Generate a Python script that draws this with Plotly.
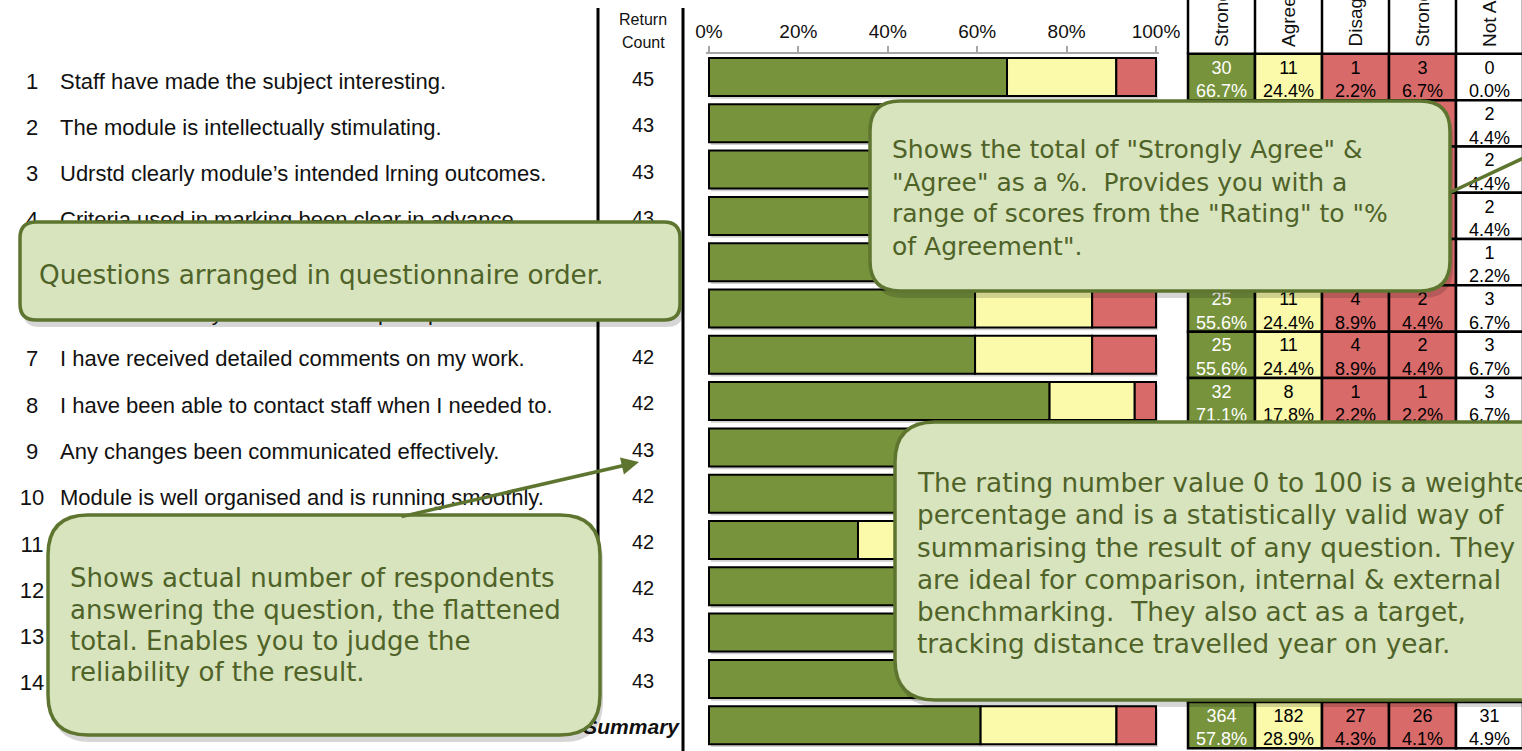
import plotly.graph_objects as go

W, H = 1522, 751

# ---------------- data ----------------
question_numbers = [str(i) for i in range(1, 15)]
questions = [
    "Staff have made the subject interesting.",
    "The module is intellectually stimulating.",
    "Udrstd clearly module’s intended lrning outcomes.",
    "Criteria used in marking been clear in advance.",
    "Assessment & marking have been fair.",
    "Feedback on my work has been prompt.",
    "I have received detailed comments on my work.",
    "I have been able to contact staff when I needed to.",
    "Any changes been communicated effectively.",
    "Module is well organised and is running smoothly.",
    "Suitable resources have been available.",
    "Library resources are good enough.",
    "Good access to specialised equipment.",
    "Overall I am satisfied with this module.",
]
strongly_agree = [30, 27, 26, 25, 28, 25, 25, 32, 27, 26, 14, 25, 27, 27]
agree = [11, 13, 14, 15, 13, 11, 11, 8, 13, 12, 20, 14, 13, 14]
disagree = [1, 1, 1, 2, 1, 4, 4, 1, 2, 2, 4, 1, 2, 1]
strongly_disagree = [3, 2, 2, 1, 2, 2, 2, 1, 1, 2, 4, 2, 1, 1]
not_applicable = [0, 2, 2, 2, 1, 3, 3, 3, 2, 3, 3, 3, 2, 2]

column_headers = ["Strongly Agree", "Agree", "Disagree", "Strongly Disagree", "Not Applicable"]
tick_values = [0, 0.2, 0.4, 0.6, 0.8, 1.0]
tick_labels = ["0%", "20%", "40%", "60%", "80%", "100%"]

# ---------------- derived ----------------
sa = strongly_agree + [sum(strongly_agree)]
ag = agree + [sum(agree)]
di = disagree + [sum(disagree)]
sd = strongly_disagree + [sum(strongly_disagree)]
na = not_applicable + [sum(not_applicable)]
answered = [a + b + c + d for a, b, c, d in zip(sa, ag, di, sd)]
totals = [n + m for n, m in zip(answered, na)]
rows = list(range(1, 16))

GREEN = "#77933C"
YELLOW = "#FAFAAA"
RED = "#D86A6A"
CALLOUT_FILL = "#D7E4BD"
CALLOUT_LINE = "#5E7530"
CALLOUT_TEXT = "#4F6228"
ARIAL = "Liberation Sans, Arial, sans-serif"
VERD = "DejaVu Sans, Verdana, sans-serif"

# row geometry (pixels): row 1 centre at 77, step 46.3
R0, STEP = 77.0, 46.3
y_top = 1 - R0 / STEP
y_bot = 1 + (H - R0) / STEP

fig = go.Figure()

# ---------------- stacked bars ----------------
p_sa = [s / n for s, n in zip(sa, answered)]
p_ag = [a / n for a, n in zip(ag, answered)]
p_neg = [(d + s) / n for d, s, n in zip(di, sd, answered)]
p_tot = [a + b + c for a, b, c in zip(p_sa, p_ag, p_neg)]
bar_line = dict(color="black", width=2)
# soft drop shadow under every bar
fig.add_trace(go.Bar(y=rows, x=p_tot, base=[0.004] * 15, orientation="h", width=0.82,
                     offset=-0.41 + 0.06, marker=dict(color="rgba(0,0,0,0.18)", line=dict(width=0)),
                     xaxis="x", yaxis="y"))
fig.add_trace(go.Bar(y=rows, x=p_sa, base=[0] * 15, orientation="h", width=0.82,
                     marker=dict(color=GREEN, line=bar_line), xaxis="x", yaxis="y"))
fig.add_trace(go.Bar(y=rows, x=p_ag, base=p_sa, orientation="h", width=0.82,
                     marker=dict(color=YELLOW, line=bar_line), xaxis="x", yaxis="y"))
fig.add_trace(go.Bar(y=rows, x=p_neg, base=[a + b for a, b in zip(p_sa, p_ag)],
                     orientation="h", width=0.82,
                     marker=dict(color=RED, line=bar_line), xaxis="x", yaxis="y"))

# ---------------- table cells ----------------
cols = [sa, ag, di, sd, na]
fills = [GREEN, YELLOW, RED, RED, "white"]
for j, (vals, fill) in enumerate(zip(cols, fills)):
    fig.add_trace(go.Bar(y=rows, x=[1] * 15, base=[j] * 15, orientation="h", width=1,
                         marker=dict(color=fill, line=dict(color="black", width=2.5)),
                         xaxis="x3", yaxis="y"))
    tc = "white" if j == 0 else "black"
    fig.add_trace(go.Scatter(x=[j + 0.5] * 15, y=[r - 0.17 for r in rows],
                             text=[str(v) for v in vals], mode="text", cliponaxis=False,
                             textfont=dict(family=ARIAL, size=18, color=tc),
                             xaxis="x3", yaxis="y"))
    fig.add_trace(go.Scatter(x=[j + 0.5] * 15, y=[r + 0.34 for r in rows],
                             text=[f"{v / t * 100:.1f}%" for v, t in zip(vals, totals)],
                             mode="text", cliponaxis=False,
                             textfont=dict(family=ARIAL, size=18, color=tc),
                             xaxis="x3", yaxis="y"))

# ---------------- left labels ----------------
lab_rows = [r + 0.13 for r in rows[:14]]
cnt_rows = [r + 0.09 for r in rows[:14]]
fig.add_trace(go.Scatter(x=[32] * 14, y=lab_rows, text=question_numbers, mode="text",
                         textposition="middle center", cliponaxis=False,
                         textfont=dict(family=ARIAL, size=22, color="#111"),
                         xaxis="x4", yaxis="y"))
fig.add_trace(go.Scatter(x=[60] * 14, y=lab_rows, text=questions, mode="text",
                         textposition="middle right", cliponaxis=False,
                         textfont=dict(family=ARIAL, size=22, color="#111"),
                         xaxis="x4", yaxis="y"))
fig.add_trace(go.Scatter(x=[643] * 14, y=cnt_rows, text=[str(v) for v in answered[:14]],
                         mode="text", textposition="middle center", cliponaxis=False,
                         textfont=dict(family=ARIAL, size=20, color="#111"),
                         xaxis="x4", yaxis="y"))
fig.add_trace(go.Scatter(x=[679], y=[15.07], text=["<b><i>Summary</i></b>"], mode="text",
                         textposition="middle left", cliponaxis=False,
                         textfont=dict(family=ARIAL, size=21, color="#111"),
                         xaxis="x4", yaxis="y"))

# ---------------- helpers (pixel -> paper) ----------------
def px(x):
    return x / W

def py(y):
    return 1 - y / H

def rrect(x0, y0, x1, y1, r):
    def P(x, y):
        return f"{px(x):.5f},{py(y):.5f}"
    return (f"M {P(x0 + r, y0)} L {P(x1 - r, y0)} Q {P(x1, y0)} {P(x1, y0 + r)} "
            f"L {P(x1, y1 - r)} Q {P(x1, y1)} {P(x1 - r, y1)} L {P(x0 + r, y1)} "
            f"Q {P(x0, y1)} {P(x0, y1 - r)} L {P(x0, y0 + r)} Q {P(x0, y0)} {P(x0 + r, y0)} Z")

shapes = []
shapes.append(dict(type="line", xref="paper", yref="paper", x0=px(598), x1=px(598),
                   y0=py(8), y1=py(703), line=dict(color="black", width=3), layer="above"))
shapes.append(dict(type="line", xref="paper", yref="paper", x0=px(683), x1=px(683),
                   y0=py(8), y1=py(H + 2), line=dict(color="black", width=3),
                   layer="above"))
for j in range(6):
    shapes.append(dict(type="line", xref="x3", yref="y", x0=j, x1=j, y0=y_top, y1=0.5,
                       line=dict(color="black", width=2.5), layer="above"))

callouts = [
    (870, 101, 1450, 291, 30),
    (20, 222, 680, 320, 16),
    (48, 515, 600, 735, 40),
    (895, 422, 1570, 700, 40),
]
for (x0, y0, x1, y1, r) in callouts:
    shapes.append(dict(type="path", xref="paper", yref="paper",
                       path=rrect(x0 + 3, y0 + 6, x1 + 3, y1 + 7, r),
                       fillcolor="rgba(0,0,0,0.16)", line=dict(width=0), layer="above"))
    shapes.append(dict(type="path", xref="paper", yref="paper",
                       path=rrect(x0, y0, x1, y1, r),
                       fillcolor=CALLOUT_FILL, line=dict(color=CALLOUT_LINE, width=3.5),
                       layer="above"))
shapes.append(dict(type="line", xref="paper", yref="paper", x0=px(1451), y0=py(192),
                   x1=px(1545), y1=py(148), line=dict(color=CALLOUT_LINE, width=3.5),
                   layer="above"))

annotations = []
annotations.append(dict(xref="paper", yref="paper", x=px(643), y=py(20), text="Return",
                        xanchor="center", yanchor="middle",
                        showarrow=False, font=dict(family=ARIAL, size=16, color="#111")))
annotations.append(dict(xref="paper", yref="paper", x=px(643), y=py(43), text="Count",
                        xanchor="center", yanchor="middle",
                        showarrow=False, font=dict(family=ARIAL, size=16, color="#111")))
for j, h in enumerate(column_headers):
    annotations.append(dict(xref="x3", yref="paper", x=j + 0.5, y=py(49), text=h,
                            textangle=-90, xanchor="center", yanchor="bottom",
                            showarrow=False, font=dict(family=ARIAL, size=19, color="#111")))

callout_texts = [
    (890, 25, [150, 182, 214, 246], [
        'Shows the total of "Strongly Agree" &',
        '"Agree" as a %.  Provides you with a',
        'range of scores from the "Rating" to "%',
        'of Agreement".']),
    (37, 26.3, [275], ["Questions arranged in questionnaire order."]),
    (68, 26, [578, 610, 641, 672], [
        "Shows actual number of respondents",
        "answering the question, the flattened",
        "total. Enables you to judge the",
        "reliability of the result."]),
    (915, 26.3, [483, 515, 548, 580, 612, 644], [
        "The rating number value 0 to 100 is a weighted",
        "percentage and is a statistically valid way of",
        "summarising the result of any question. They",
        "are ideal for comparison, internal & external",
        "benchmarking.  They also act as a target,",
        "tracking distance travelled year on year."]),
]
for x, fs, ys, lines in callout_texts:
    for y, t in zip(ys, lines):
        annotations.append(dict(xref="paper", yref="paper", x=px(x), y=py(y), text=t,
                                xanchor="left", yanchor="middle", showarrow=False,
                                font=dict(family=VERD, size=fs, color=CALLOUT_TEXT)))
annotations.append(dict(xref="paper", yref="paper", x=px(639), y=py(462), text="",
                        showarrow=True, axref="pixel", ayref="pixel", ax=-239, ay=55,
                        arrowhead=2, arrowsize=1, arrowwidth=3.5, arrowcolor=CALLOUT_LINE))

fig.update_layout(
    template="none",
    width=W, height=H, margin=dict(l=0, r=0, t=0, b=0, pad=0), autosize=False,
    paper_bgcolor="white", plot_bgcolor="rgba(0,0,0,0)",
    barmode="overlay", showlegend=False, hovermode=False,
    shapes=shapes, annotations=annotations,
    xaxis=dict(domain=[px(706.3), px(1158.7)], range=[-0.006, 1.006], side="top",
               anchor="free", position=py(53), tickvals=tick_values, ticktext=tick_labels,
               showline=True, linecolor="#A6A6A6", linewidth=2, ticks="outside",
               ticklen=6, tickwidth=2, tickcolor="#A6A6A6", showgrid=False, zeroline=False,
               automargin=False,
               tickfont=dict(family=ARIAL, size=19, color="#111"), fixedrange=True),
    xaxis3=dict(domain=[px(1186), 1], range=[-2 / 67, (W - 1186) / 67 - 2 / 67],
                visible=False, anchor="y", automargin=False, fixedrange=True),
    xaxis4=dict(domain=[0, 1], range=[0, W], visible=False, anchor="y",
                automargin=False, fixedrange=True),
    yaxis=dict(domain=[0, 1], range=[y_bot, y_top], visible=False, automargin=False,
               fixedrange=True),
)

fig.write_html("out.html",
               config={"displayModeBar": False, "staticPlot": True},
               post_script="document.body.style.margin='0px';"
                           "document.body.style.overflow='hidden';")
